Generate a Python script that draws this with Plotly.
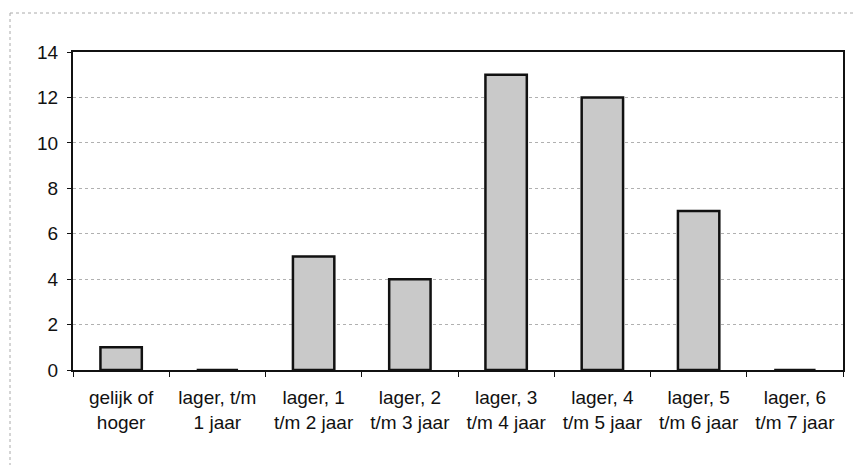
import plotly.graph_objects as go

categories = ["gelijk of<br>hoger", "lager, t/m<br>1 jaar", "lager, 1<br>t/m 2 jaar", "lager, 2<br>t/m 3 jaar",
              "lager, 3<br>t/m 4 jaar", "lager, 4<br>t/m 5 jaar", "lager, 5<br>t/m 6 jaar", "lager, 6<br>t/m 7 jaar"]
values = [1, 0, 5, 4, 13, 12, 7, 0]
y_ticks = [0, 2, 4, 6, 8, 10, 12, 14]

W, H = 853, 465
L, R, T, B = 73, 10, 52, 95

fig = go.Figure()
fig.add_trace(go.Bar(
    x=list(range(len(categories))), y=values, width=0.43,
    marker=dict(color="#c9c9c9", line=dict(color="#111111", width=2.5)),
))

pw = W - L - R
ph = H - T - B
bx = (10 - L) / pw
by = 1 + (T - 13) / ph
fig.add_shape(type="line", xref="paper", yref="paper", x0=bx, x1=1 + R / pw, y0=by, y1=by,
              line=dict(color="#aaaaaa", width=1, dash="dot"))
fig.add_shape(type="line", xref="paper", yref="paper", x0=bx, x1=bx, y0=by, y1=-B / ph,
              line=dict(color="#aaaaaa", width=1, dash="dot"))

fig.update_layout(
    width=W, height=H,
    margin=dict(l=L, r=R, t=T, b=B, autoexpand=False),
    plot_bgcolor="white", paper_bgcolor="white",
    showlegend=False,
    font=dict(family="Liberation Sans, Arial, sans-serif", size=19, color="#111111"),
)
fig.update_xaxes(
    range=[-0.5, len(categories) - 0.5], automargin=False,
    tickmode="array", tickvals=list(range(len(categories))), ticktext=categories,
    tickfont=dict(size=19), ticklabelstandoff=9,
    showline=True, linecolor="#111111", linewidth=2, mirror=True,
    showgrid=False, ticks="", zeroline=False,
    minor=dict(tickmode="array", tickvals=[i + 0.5 for i in range(-1, len(categories))],
               ticks="outside", ticklen=5, tickcolor="#111111", tickwidth=1),
)
fig.update_yaxes(
    range=[0, 14], tickmode="array", tickvals=y_ticks, automargin=False,
    tickfont=dict(size=19),
    showline=True, linecolor="#111111", linewidth=2, mirror=True,
    showgrid=True, gridcolor="#b0b0b0", griddash="dot", gridwidth=1,
    ticks="outside", ticklen=4, tickcolor="#111111",
    zeroline=False, ticklabelstandoff=5,
)
fig.write_html("out.html", config={"displayModeBar": False},
               post_script="document.body.style.margin='0';document.body.style.overflow='hidden';")
